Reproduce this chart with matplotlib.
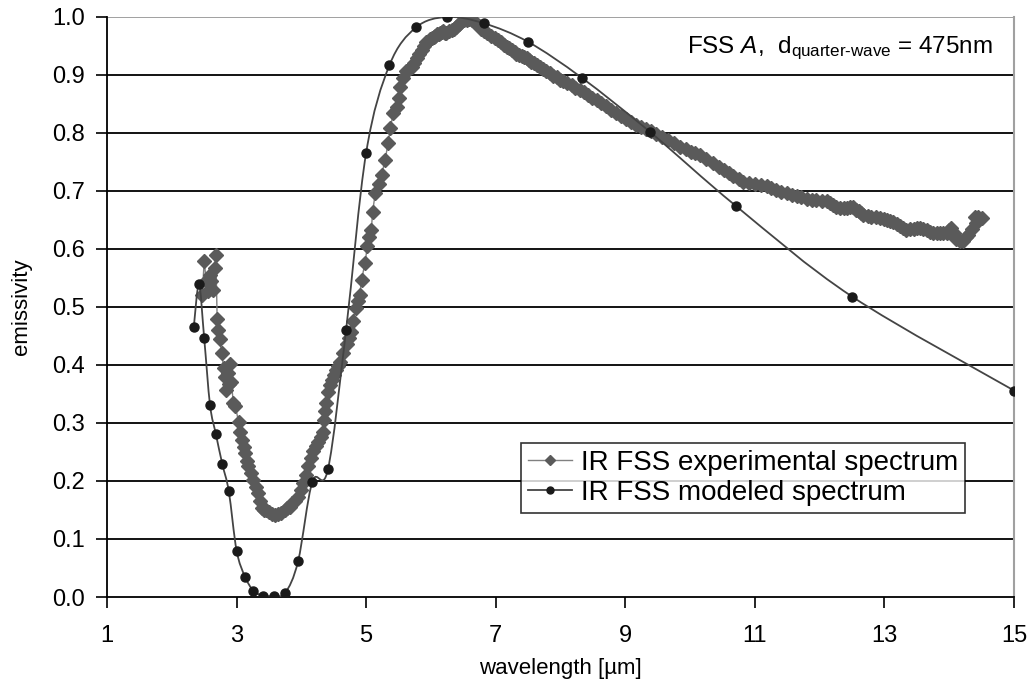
import numpy as np
import matplotlib
matplotlib.use('Agg')
import matplotlib.pyplot as plt
from matplotlib.path import Path
from matplotlib.patches import PathPatch
from matplotlib.lines import Line2D

plt.rcParams['font.family'] = ['Liberation Sans', 'DejaVu Sans']
plt.rcParams['mathtext.fontset'] = 'custom'
plt.rcParams['mathtext.rm'] = 'Liberation Sans'
plt.rcParams['mathtext.it'] = 'Liberation Sans:italic'

# modeled spectrum (black dots, smoothed line)
model_wl = [2.34, 2.42, 2.50, 2.59, 2.68, 2.78, 2.88, 3.00, 3.13, 3.26, 3.41, 3.57,
            3.75, 3.95, 4.17, 4.41, 4.69, 5.00, 5.36, 5.77, 6.25, 6.82, 7.50, 8.33,
            9.38, 10.71, 12.50, 15.00]
model_em = [0.466, 0.539, 0.446, 0.331, 0.281, 0.229, 0.182, 0.080, 0.035, 0.011, 0.002, 0.002,
            0.007, 0.062, 0.199, 0.220, 0.460, 0.766, 0.917, 0.982, 1.000, 0.989, 0.957, 0.895,
            0.802, 0.674, 0.518, 0.356]

# experimental spectrum (grey diamonds)
exp_wl = [2.47, 2.50, 2.53, 2.56, 2.59, 2.61, 2.64, 2.66, 2.68, 2.70,
          2.72, 2.74, 2.77, 2.80, 2.82, 2.84, 2.86, 2.88, 2.90, 2.92,
          2.95, 2.98, 3.03, 3.06, 3.08, 3.11, 3.13, 3.16, 3.18, 3.22,
          3.26, 3.30, 3.33, 3.36, 3.39, 3.43, 3.46, 3.50, 3.54, 3.59,
          3.64, 3.69, 3.74, 3.78, 3.82, 3.86, 3.90, 3.95, 3.99, 4.03,
          4.07, 4.11, 4.15, 4.18, 4.22, 4.26, 4.30, 4.34, 4.35, 4.37,
          4.38, 4.41, 4.44, 4.47, 4.50, 4.54, 4.57, 4.60, 4.65, 4.70,
          4.73, 4.76, 4.80, 4.84, 4.87, 4.90, 4.93, 4.98, 5.02, 5.05,
          5.08, 5.10, 5.14, 5.20, 5.24, 5.29, 5.34, 5.37, 5.42, 5.47,
          5.50, 5.52, 5.57, 5.62, 5.66, 5.70, 5.74, 5.78, 5.82, 5.86,
          5.90, 5.93, 5.98, 6.01, 6.04, 6.07, 6.09, 6.12, 6.14, 6.17,
          6.19, 6.21, 6.24, 6.28, 6.32, 6.35, 6.39, 6.43, 6.47, 6.51,
          6.55, 6.59, 6.63, 6.67, 6.70, 6.74, 6.78, 6.82, 6.86, 6.92,
          6.99, 7.04, 7.08, 7.13, 7.17, 7.21, 7.25, 7.29, 7.32, 7.36,
          7.40, 7.44, 7.48, 7.52, 7.55, 7.59, 7.63, 7.68, 7.73, 7.78,
          7.84, 7.89, 7.94, 7.99, 8.04, 8.10, 8.17, 8.23, 8.30, 8.36,
          8.43, 8.49, 8.56, 8.63, 8.71, 8.78, 8.86, 8.93, 9.01, 9.09,
          9.17, 9.24, 9.32, 9.40, 9.48, 9.57, 9.66, 9.75, 9.84, 9.93,
          10.02, 10.08, 10.15, 10.25, 10.36, 10.44, 10.52, 10.60, 10.67, 10.75,
          10.82, 10.91, 11.00, 11.09, 11.18, 11.25, 11.33, 11.41, 11.49, 11.57,
          11.65, 11.72, 11.80, 11.88, 11.95, 12.03, 12.11, 12.16, 12.21, 12.26,
          12.31, 12.37, 12.42, 12.47, 12.52, 12.56, 12.60, 12.64, 12.67, 12.74,
          12.80, 12.87, 12.93, 12.99, 13.04, 13.09, 13.14, 13.19, 13.24, 13.29,
          13.34, 13.40, 13.45, 13.50, 13.55, 13.60, 13.65, 13.70, 13.75, 13.81,
          13.86, 13.91, 13.96, 14.00, 14.03, 14.07, 14.11, 14.16, 14.21, 14.26,
          14.29, 14.35, 14.42, 14.40, 14.45, 14.50]
exp_em = [0.520, 0.580, 0.545, 0.527, 0.555, 0.544, 0.530, 0.567, 0.590, 0.480,
          0.460, 0.444, 0.420, 0.395, 0.380, 0.357, 0.386, 0.367, 0.402, 0.370,
          0.334, 0.330, 0.302, 0.285, 0.271, 0.258, 0.248, 0.235, 0.225, 0.213,
          0.202, 0.190, 0.179, 0.165, 0.153, 0.150, 0.150, 0.146, 0.143, 0.141,
          0.143, 0.144, 0.150, 0.153, 0.156, 0.162, 0.166, 0.173, 0.185, 0.196,
          0.210, 0.225, 0.240, 0.251, 0.260, 0.268, 0.275, 0.285, 0.305, 0.320,
          0.334, 0.354, 0.365, 0.374, 0.382, 0.391, 0.398, 0.406, 0.420, 0.437,
          0.447, 0.457, 0.476, 0.498, 0.510, 0.521, 0.547, 0.575, 0.605, 0.620,
          0.633, 0.664, 0.696, 0.712, 0.728, 0.753, 0.782, 0.808, 0.834, 0.845,
          0.860, 0.880, 0.895, 0.906, 0.910, 0.914, 0.921, 0.929, 0.936, 0.943,
          0.950, 0.957, 0.962, 0.964, 0.966, 0.968, 0.970, 0.971, 0.972, 0.974,
          0.975, 0.973, 0.972, 0.975, 0.978, 0.980, 0.983, 0.988, 0.992, 0.994,
          0.995, 0.996, 0.995, 0.992, 0.989, 0.985, 0.980, 0.976, 0.972, 0.968,
          0.963, 0.960, 0.956, 0.952, 0.949, 0.946, 0.943, 0.940, 0.937, 0.935,
          0.933, 0.931, 0.929, 0.925, 0.922, 0.920, 0.917, 0.913, 0.910, 0.907,
          0.903, 0.899, 0.896, 0.892, 0.889, 0.886, 0.882, 0.878, 0.874, 0.870,
          0.866, 0.861, 0.857, 0.852, 0.846, 0.840, 0.834, 0.829, 0.824, 0.819,
          0.814, 0.810, 0.806, 0.803, 0.799, 0.793, 0.788, 0.782, 0.776, 0.772,
          0.768, 0.765, 0.762, 0.755, 0.748, 0.742, 0.737, 0.731, 0.725, 0.720,
          0.716, 0.714, 0.712, 0.710, 0.708, 0.705, 0.702, 0.699, 0.696, 0.693,
          0.691, 0.689, 0.687, 0.685, 0.684, 0.683, 0.682, 0.679, 0.676, 0.673,
          0.670, 0.671, 0.671, 0.672, 0.672, 0.668, 0.665, 0.662, 0.659, 0.657,
          0.656, 0.655, 0.654, 0.652, 0.650, 0.649, 0.647, 0.643, 0.640, 0.636,
          0.633, 0.634, 0.635, 0.636, 0.636, 0.634, 0.632, 0.630, 0.628, 0.627,
          0.627, 0.627, 0.627, 0.632, 0.636, 0.627, 0.618, 0.614, 0.613, 0.620,
          0.624, 0.634, 0.644, 0.656, 0.655, 0.654]

xticks = [1, 3, 5, 7, 9, 11, 13, 15]
yticks = [0.0, 0.1, 0.2, 0.3, 0.4, 0.5, 0.6, 0.7, 0.8, 0.9, 1.0]

exp_color = '#5a5a5a'
model_color = '#1a1a1a'


# smoothed line like Excel (Catmull-Rom as cubic Bezier)
def smooth_path(xs, ys):
  p = np.column_stack([xs, ys])
  verts = [p[0]]
  codes = [Path.MOVETO]
  for i in range(len(p) - 1):
    p0 = p[i - 1] if i > 0 else p[i]
    p3 = p[i + 2] if i + 2 < len(p) else p[i + 1]
    c1 = p[i] + (p[i + 1] - p0) / 6.0
    c2 = p[i + 1] - (p3 - p[i]) / 6.0
    verts += [c1, c2, p[i + 1]]
    codes += [Path.CURVE4] * 3
  return Path(verts, codes)


fig = plt.figure(figsize=(10.31, 6.87), dpi=100)
ax = fig.add_axes([0.1038, 0.131, 0.8797, 0.8443])

for y in yticks[1:-1]:
  ax.axhline(y, color='black', lw=1.3, zorder=1)
ax.axhline(1.0, color='#909090', lw=1.2, zorder=1)

ax.plot(exp_wl, exp_em, color='#808080', lw=1.0, marker='D', ms=7,
        mfc=exp_color, mec=exp_color, zorder=3)
ax.add_patch(PathPatch(smooth_path(model_wl, model_em), fill=False,
                       edgecolor='#444444', lw=1.3, zorder=4))
ax.plot(model_wl, model_em, ls='none', marker='o', ms=6.5, color=model_color, zorder=5)

ax.set_xlim(1, 15)
ax.set_ylim(0, 1.0)
ax.set_xticks(xticks)
ax.set_yticks(yticks)
ax.set_yticklabels(['{:.1f}'.format(v) for v in yticks])
ax.tick_params(axis='both', direction='out', length=8, width=1.2, labelsize=17, color='black')
ax.tick_params(axis='x', pad=12)
ax.tick_params(axis='y', pad=8)

ax.spines['left'].set_color('black')
ax.spines['left'].set_linewidth(1.3)
ax.spines['bottom'].set_color('black')
ax.spines['bottom'].set_linewidth(1.3)
ax.spines['right'].set_color('#a0a0a0')
ax.spines['right'].set_linewidth(1.5)
ax.spines['top'].set_visible(False)

ax.set_xlabel('wavelength [\u00b5m]', fontsize=16, labelpad=8)
ax.set_ylabel('emissivity', fontsize=16, labelpad=14)

note = r'FSS $\mathit{A}$,  d$_{\mathrm{quarter' + '\u2010' + r'wave}}$ = 475nm'
ax.text(0.977, 0.938, note, transform=ax.transAxes, ha='right', va='baseline', fontsize=17.5)

handles = [Line2D([], [], color='#808080', lw=1.0, marker='D', ms=5, mfc=exp_color, mec=exp_color),
           Line2D([], [], color='#444444', lw=1.3, marker='o', ms=5, mfc=model_color, mec=model_color)]
leg = ax.legend(handles, ['IR FSS experimental spectrum', 'IR FSS modeled spectrum'],
                loc='lower right', bbox_to_anchor=(0.946, 0.145), borderaxespad=0,
                fontsize=20, frameon=True, fancybox=False, handlelength=1.6,
                handletextpad=0.3, borderpad=0.25, labelspacing=0.15)
leg.get_frame().set_edgecolor('black')
leg.get_frame().set_linewidth(1.2)
leg.set_zorder(6)

plt.savefig('out.png', dpi=100)
